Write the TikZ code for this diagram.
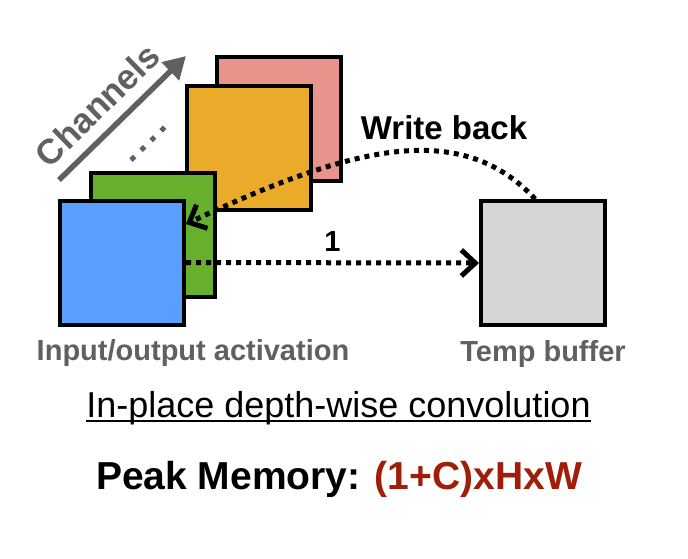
\documentclass[tikz,border=0pt]{standalone}
\usepackage{fontspec}
\setmainfont{Liberation Sans}
\usepackage{xcolor}
\usetikzlibrary{positioning,arrows.meta}
\definecolor{chpink}{RGB}{232,148,140}
\definecolor{chorange}{RGB}{235,171,42}
\definecolor{chgreen}{RGB}{103,176,45}
\definecolor{chblue}{RGB}{89,160,254}
\definecolor{bufgray}{RGB}{214,214,214}
\definecolor{txtgray}{RGB}{96,96,96}
\definecolor{memred}{RGB}{160,30,8}

\begin{document}
\begin{tikzpicture}[x=1pt,y=-1pt,
    plane/.style={draw=black,line width=4pt,minimum size=124pt,inner sep=0pt},
    move/.style={line width=5pt,dash pattern=on 5pt off 5pt,
                 -{Straight Barb[length=14pt,width=26pt]}},
    chanarrow/.style={draw=txtgray,line width=5.5pt,
                 -{Triangle[length=22pt,width=24pt]}},
    lbl/.style={inner sep=0pt,anchor=base,text=txtgray,
                font=\fontsize{29}{34}\selectfont\bfseries}]
\fill[white] (0,0) rectangle (688,558);
\useasboundingbox (0,0) rectangle (688,558);
% channel planes, back to front
\node[plane,fill=chpink]   (pink)   at (279,119)   {};
\node[plane,fill=chorange] (orange) at (249,147.5) {};
\node[plane,fill=chgreen]  (green)  at (153,235)   {};
\node[plane,fill=chblue]   (blue)   at (122,262.5) {};
\node[plane,fill=bufgray]  (temp)   at (543,263)   {};
% channels direction
\coordinate (chtail) at (59,180);
\coordinate (chhead) at (186,56);
\draw[chanarrow] (chtail) -- node[pos=0.45,sloped,above=11pt,inner sep=0pt,text=txtgray,
      font=\fontsize{35}{40}\selectfont\bfseries] (chlabel) {Channels} (chhead);
\coordinate (dotsa) at (131,160);
\coordinate (dotsb) at (167,125);
\draw[txtgray,line width=5pt,dash pattern=on 5pt off 9pt] (dotsa) -- (dotsb);
% data movement
\path[move] (blue.east) edge node[above=9pt,inner sep=0pt,
      font=\fontsize{29}{34}\selectfont\bfseries] (one) {1} (temp.west);
\draw[move] (temp.97) .. controls (460,118) and (350,147) .. (blue.31);
\node[inner sep=0pt,anchor=base,font=\fontsize{33}{38}\selectfont\bfseries]
      (wb) at (444,139) {Write back};
% captions
\node[lbl] (iolabel)  at (193,360) {Input/output activation};
\node[lbl] (buflabel) at (543,361) {Temp buffer};
\node[inner sep=0pt,anchor=base,font=\fontsize{36}{42}\selectfont]
      (conv) at (338.5,417) {In-place depth-wise convolution};
\draw[line width=2pt] ([yshift=-4pt]conv.base west) -- ([yshift=-4pt]conv.base east);
\node[inner sep=0pt,anchor=base,font=\fontsize{39}{46}\selectfont\bfseries]
      (peak) at (339,489) {Peak Memory: \textcolor{memred}{(1+C)xHxW}};
\end{tikzpicture}
\end{document}
